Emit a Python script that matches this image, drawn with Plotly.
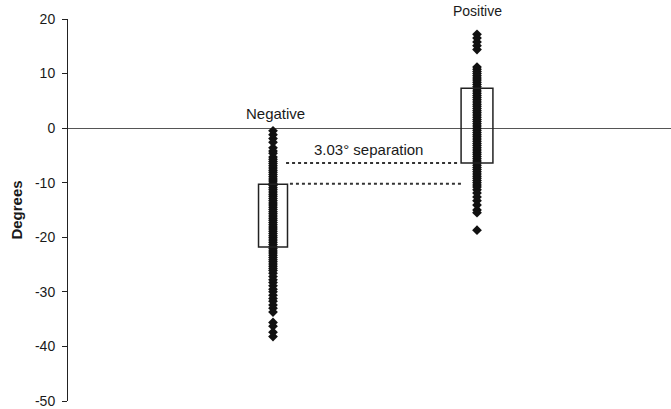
import plotly.graph_objects as go

groups = ["Negative", "Positive"]
group_x = [1, 2]

negative_values = [
    -0.5, -1.2, -1.9, -2.6, -3.6, -4.2, -4.6, -5.3, -5.7, -6.1, -6.5, -6.9, -7.3,
    -7.7, -8.1, -8.5, -8.9, -9.3, -9.7, -10.1, -10.5, -10.9, -11.3, -11.7, -12.1,
    -12.5, -12.9, -13.3, -13.7, -14.1, -14.5, -14.9, -15.3, -15.7, -16.1, -16.5,
    -16.9, -17.3, -17.7, -18.1, -18.5, -18.9, -19.3, -19.7, -20.1, -20.5, -20.9,
    -21.3, -21.7, -22.1, -22.5, -22.9, -23.3, -23.7, -24.1, -24.5, -24.9, -25.3,
    -25.7, -26.1, -26.6, -27.2, -27.8, -28.3, -28.9, -29.5, -30.0, -30.6, -31.2,
    -31.7, -32.4, -33.0, -33.7, -35.6, -36.3, -37.4, -38.2,
]

positive_values = [
    17.2, 16.5, 15.8, 15.1, 14.4, 11.2, 10.8, 10.4, 10.0, 9.6, 9.2, 8.8, 8.4, 8.0,
    7.6, 7.2, 6.8, 6.4, 6.0, 5.6, 5.2, 4.8, 4.4, 4.0, 3.6, 3.2, 2.8, 2.4, 2.0, 1.6,
    1.2, 0.8, 0.4, 0.0, -0.4, -0.8, -1.2, -1.6, -2.0, -2.4, -2.8, -3.2, -3.6, -4.0,
    -4.4, -4.8, -5.2, -5.6, -6.0, -6.4, -6.8, -7.2, -7.6, -8.0, -8.4, -8.8, -9.2,
    -9.6, -10.0, -10.4, -10.8, -11.3, -11.9, -12.6, -13.3, -14.1, -15.0, -15.5,
    -18.7,
]

box_low = [-21.8, -6.4]
box_high = [-10.3, 7.3]
box_halfwidth = [0.071, 0.078]

separation_text = "3.03° separation"
separation_levels = [-6.4, -10.2]
separation_x0 = [1.064, 1.083]
separation_x1 = [1.912, 1.926]

y_ticks = [20, 10, 0, -10, -20, -30, -40, -50]
y_range = [-50, 20]

FONT = "Liberation Sans, Arial"
INK = "#1a1a1a"

fig = go.Figure()

for gx, vals in zip(group_x, [negative_values, positive_values]):
    fig.add_trace(go.Scatter(
        x=[gx] * len(vals), y=vals, mode="markers",
        marker=dict(symbol="diamond", size=7.5, color="#111111", line=dict(width=0)),
        showlegend=False, hoverinfo="y", cliponaxis=False,
    ))

for gx, lo, hi, hw in zip(group_x, box_low, box_high, box_halfwidth):
    fig.add_shape(type="rect", xref="x", yref="y", x0=gx - hw, x1=gx + hw,
                  y0=lo, y1=hi, line=dict(color="#222222", width=1.5),
                  fillcolor="rgba(0,0,0,0)", layer="above")

for lvl, x0, x1 in zip(separation_levels, separation_x0, separation_x1):
    fig.add_shape(type="line", xref="x", yref="y", x0=x0, x1=x1, y0=lvl, y1=lvl,
                  line=dict(color="#333333", width=2, dash="dot"))

# group labels: Negative sits inside the plot, Positive sits just above its top edge
label_y = [2.7, 21.4]
label_xshift = [0.01, 0.0]
label_size = [15, 14]
for gx, name, ly, dx, fs in zip(group_x, groups, label_y, label_xshift, label_size):
    yp = (ly - y_range[0]) / (y_range[1] - y_range[0])
    fig.add_annotation(x=gx + dx, y=yp, text=name, showarrow=False,
                       xanchor="center", yanchor="middle",
                       font=dict(family=FONT, size=fs, color=INK),
                       xref="x", yref="paper")

fig.add_annotation(x=1.466, y=-4.0, text=separation_text, showarrow=False,
                   font=dict(family=FONT, size=15, color=INK),
                   xref="x", yref="y")

fig.update_xaxes(visible=False, range=[-0.005, 2.951], automargin=False)
fig.update_yaxes(
    range=y_range, tickvals=y_ticks, ticktext=[str(v) for v in y_ticks],
    showline=True, linecolor="#222222", linewidth=1,
    ticks="outside", ticklen=5, tickcolor="#222222",
    showgrid=False, zeroline=True, zerolinecolor="#555555", zerolinewidth=1,
    tickfont=dict(family=FONT, size=14, color=INK),
    title=dict(text="<b>Degrees</b>", font=dict(family=FONT, size=15, color=INK),
               standoff=8),
    ticklabelstandoff=4,
    ticklabeloverflow="allow",
    automargin=False,
)

fig.update_layout(
    width=671, height=409,
    margin=dict(l=68, r=0, t=19, b=8),
    plot_bgcolor="white", paper_bgcolor="white",
    showlegend=False,
)

# remove the browser's default body margin so the figure fills the window exactly
fig.write_html("out.html", config={"displayModeBar": False},
               post_script="document.body.style.margin='0';")
